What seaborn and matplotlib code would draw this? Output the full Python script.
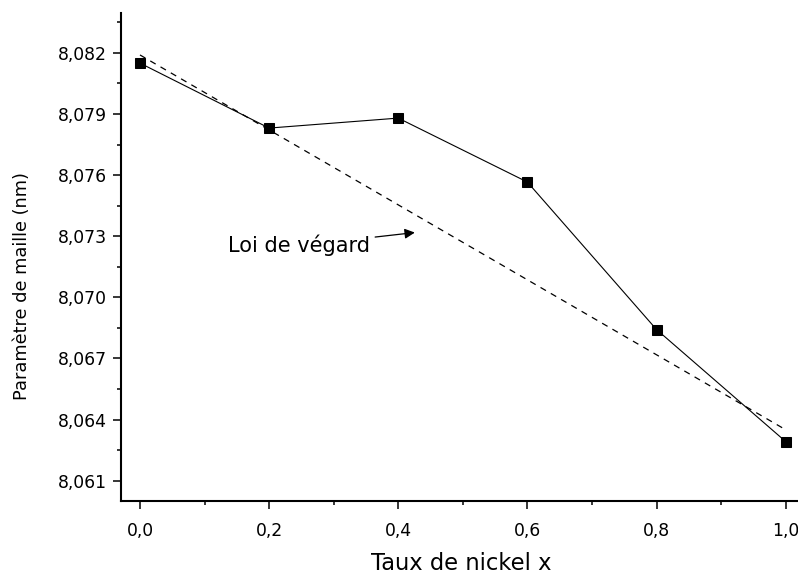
import matplotlib
matplotlib.use("Agg")
import matplotlib.pyplot as plt
from matplotlib.ticker import MultipleLocator, FixedLocator, FuncFormatter
import numpy as np
import pandas as pd
import seaborn as sns

# Nickel fraction and measured lattice parameter
nickel_x = [0.0, 0.2, 0.4, 0.6, 0.8, 1.0]
lattice_nm = [8.0815, 8.07831, 8.0788, 8.07566, 8.06842, 8.06292]

# Vegard's law: straight line between the two end members
vegard_x = [0.0, 1.0]
vegard_y = [8.0819, 8.0635]

x_ticks = [0.0, 0.2, 0.4, 0.6, 0.8, 1.0]
y_ticks = [8.061, 8.064, 8.067, 8.070, 8.073, 8.076, 8.079, 8.082]

measured = pd.DataFrame({"x": nickel_x, "a": lattice_nm})
vegard = pd.DataFrame({"x": vegard_x, "a": vegard_y})

sns.set_theme(style="ticks")
plt.rcParams["font.family"] = ["DejaVu Sans"]

fig = plt.figure(figsize=(7.98, 5.77), dpi=100)
ax = fig.add_axes([121 / 798, 76 / 577, 684 / 798, 488 / 577])

sns.lineplot(data=vegard, x="x", y="a", ax=ax, color="black", lw=0.9,
             dashes=False, linestyle=(0, (5, 4.5)))
sns.lineplot(data=measured, x="x", y="a", ax=ax, color="black", lw=0.8,
             marker="s", markersize=7, markeredgecolor="black",
             markerfacecolor="black")

ax.set_xlim(-0.0294, 1.03)
ax.set_ylim(8.0600, 8.08396)

ax.xaxis.set_major_locator(FixedLocator(x_ticks))
ax.xaxis.set_minor_locator(MultipleLocator(0.1))
ax.yaxis.set_major_locator(FixedLocator(y_ticks))
ax.yaxis.set_minor_locator(FixedLocator([t + 0.0015 for t in [8.058] + y_ticks]))

ax.xaxis.set_major_formatter(FuncFormatter(lambda v, p: f"{v:.1f}".replace(".", ",")))
ax.yaxis.set_major_formatter(FuncFormatter(lambda v, p: f"{v:.3f}".replace(".", ",")))

ax.tick_params(axis="both", which="major", direction="out", length=6, width=1.1,
               labelsize=12.4, color="black", labelcolor="black")
ax.tick_params(axis="both", which="minor", direction="out", length=3, width=1.1,
               color="black")
ax.tick_params(axis="y", which="major", pad=4)
ax.tick_params(axis="x", which="major", pad=9)

for side in ("top", "right"):
    ax.spines[side].set_visible(False)
for side in ("left", "bottom"):
    ax.spines[side].set_linewidth(1.5)
    ax.spines[side].set_color("black")

ax.set_xlabel("Taux de nickel x", fontsize=16.3, color="black")
ax.set_ylabel("Paramètre de maille (nm)", fontsize=12.8, color="black")
ax.xaxis.set_label_coords((461 - 121) / 684, -(564 - 501) / 488)
ax.yaxis.set_label_coords(-(121 - 22) / 684, (501 - 286) / 488)
ax.xaxis.label.set_va("center")
ax.yaxis.label.set_va("center")

ax.annotate("Loi de végard", xy=(0.4257, 8.07318), xytext=(0.357, 8.07254),
            ha="right", va="center", fontsize=15, color="black",
            arrowprops=dict(arrowstyle="-|>", color="black", lw=0.9,
                            mutation_scale=15, shrinkA=1, shrinkB=0))

fig.savefig("out.png", dpi=100, facecolor="white")
